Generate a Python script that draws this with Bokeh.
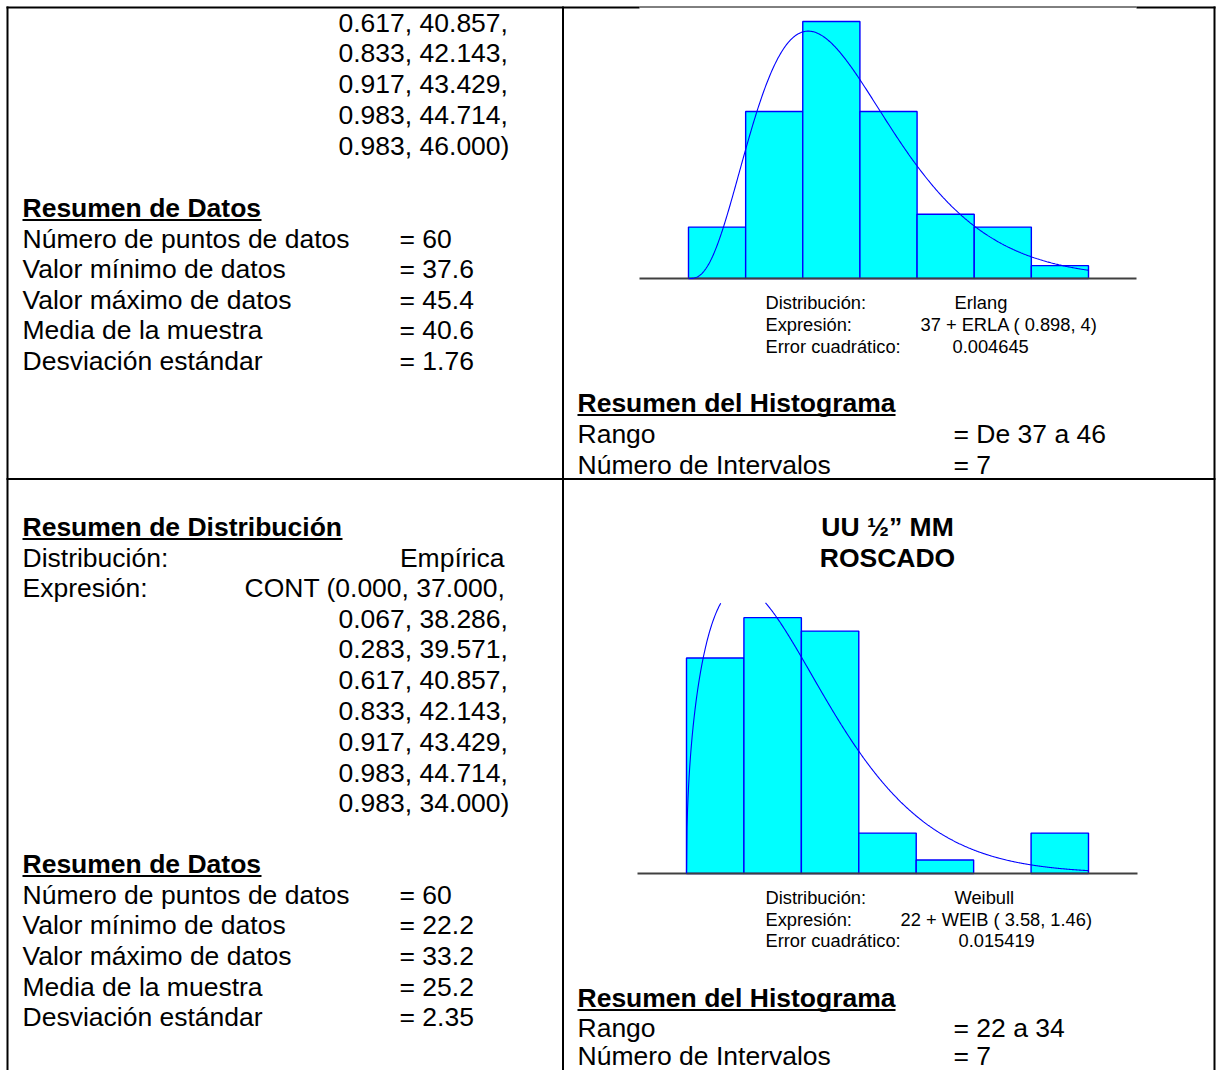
import math
import numpy as np
from bokeh.plotting import figure
from bokeh.models import Range1d
from bokeh.core.properties import value
from bokeh.embed import file_html
from bokeh.resources import INLINE

# ---------------- data ----------------
stat_labels = ["Número de puntos de datos", "Valor mínimo de datos",
               "Valor máximo de datos", "Media de la muestra", "Desviación estándar"]
stats_top = ["= 60", "= 37.6", "= 45.4", "= 40.6", "= 1.76"]
stats_bot = ["= 60", "= 22.2", "= 33.2", "= 25.2", "= 2.35"]

cont_top_tail = ["0.617, 40.857,", "0.833, 42.143,", "0.917, 43.429,",
                 "0.983, 44.714,", "0.983, 46.000)"]
dist_name_bot = "Empírica"
cont_bot_head = "CONT (0.000, 37.000,"
cont_bot_tail = ["0.067, 38.286,", "0.283, 39.571,", "0.617, 40.857,",
                 "0.833, 42.143,", "0.917, 43.429,", "0.983, 44.714,",
                 "0.983, 34.000)"]

fit_labels = ["Distribución:", "Expresión:", "Error cuadrático:"]
fit_top = ["Erlang", "37 + ERLA ( 0.898, 4)", "0.004645"]
fit_bot = ["Weibull", "22 + WEIB ( 3.58, 1.46)", "0.015419"]

hist_labels = ["Rango", "Número de Intervalos"]
hist_top = ["= De 37 a 46", "= 7"]
hist_bot = ["= 22 a 34", "= 7"]

title_lines = ["UU ½” MM", "ROSCADO"]

edges_top = [37.000, 38.286, 39.571, 40.857, 42.143, 43.429, 44.714, 46.000]
counts_top = [4, 13, 20, 13, 5, 4, 1]
edges_bot = [22.000, 23.714, 25.429, 27.143, 28.857, 30.571, 32.286, 34.000]
counts_bot = [16, 19, 18, 3, 1, 0, 3]
n_points = 60

erlang_loc, erlang_scale, erlang_k = 37.0, 0.898, 4
weib_loc, weib_scale, weib_shape = 22.0, 3.58, 1.46

# ---------------- figure ----------------
FONT = value("Liberation Sans")
BIG = "26.5px"
SMALL = "18.3px"
W, H = 1216, 1070

p = figure(width=W, height=H, output_backend="svg", toolbar_location=None,
           x_range=Range1d(0, W), y_range=Range1d(H, 0), min_border=0)
p.axis.visible = False
p.grid.visible = False
p.outline_line_color = None
p.background_fill_color = "white"
p.border_fill_color = "white"


def anchored(v0, p0, v1, p1, lo_px, hi_px):
    s = (p1 - p0) / (v1 - v0)
    return Range1d(start=v0 + (lo_px - p0) / s, end=v0 + (hi_px - p0) / s)


p.extra_x_ranges = {
    "xt": anchored(edges_top[0], 688, edges_top[-1], 1088, 0, W),
    "xb": anchored(edges_bot[0], 686, edges_bot[-1], 1088, 0, W),
}
p.extra_y_ranges = {
    "yt": anchored(0, 278, 20, 21, H, 0),
    "yb": anchored(0, 873, 60, 65, H, 0),
}


def txt(x, y, s, size=BIG, bold=False, align="left"):
    p.text(x=[x], y=[y], text=[s], text_font=FONT, text_font_size=size,
           text_font_style="bold" if bold else "normal", text_align=align,
           text_baseline="middle", text_color="black")


def heading(x, y, s, width):
    txt(x, y, s, bold=True)
    p.segment(x0=[x], y0=[y + 12.5], x1=[x + width], y1=[y + 12.5],
              line_color="black", line_width=2)


# ---------------- table lines ----------------
p.segment(x0=[7, 562.5, 1214], y0=[6, 6, 6], x1=[7, 562.5, 1214], y1=[H, H, H],
          line_color="black", line_width=2)
p.segment(x0=[6, 1136, 6], y0=[7, 7, 478.5], x1=[639, 1215, 1215], y1=[7, 7, 478.5],
          line_color="black", line_width=2)
p.segment(x0=[639], y0=[6.5], x1=[1136], y1=[6.5], line_color="black", line_width=1)

# ---------------- top-left cell ----------------
for i, s in enumerate(cont_top_tail):
    txt(338, 22 + i * 30.8, s)
heading(22, 207, "Resumen de Datos", 239)
for i, (lab, val) in enumerate(zip(stat_labels, stats_top)):
    txt(22, 238 + i * 30.6, lab)
    txt(399, 238 + i * 30.6, val)

# ---------------- bottom-left cell ----------------
heading(22, 526, "Resumen de Distribución", 320)
txt(22, 557, "Distribución:")
txt(504, 557, dist_name_bot, align="right")
txt(22, 587, "Expresión:")
txt(244, 587, cont_bot_head)
for i, s in enumerate(cont_bot_tail):
    txt(338, 618 + i * 30.8, s)
heading(22, 863, "Resumen de Datos", 239)
for i, (lab, val) in enumerate(zip(stat_labels, stats_bot)):
    txt(22, 894 + i * 30.7, lab)
    txt(399, 894 + i * 30.7, val)


# ---------------- histograms ----------------
def histogram(edges, counts, xr, yr, base_px, base_x0, base_x1):
    keep = [i for i, c in enumerate(counts) if c > 0]
    p.quad(left=[edges[i] for i in keep], right=[edges[i + 1] for i in keep],
           bottom=[0] * len(keep), top=[counts[i] for i in keep],
           fill_color="#00FFFF", line_color="#0000FF", line_width=1.4,
           x_range_name=xr, y_range_name=yr)
    p.segment(x0=[base_x0], y0=[base_px], x1=[base_x1], y1=[base_px],
              line_color="#404040", line_width=2)


histogram(edges_top, counts_top, "xt", "yt", 278, 639, 1136)
histogram(edges_bot, counts_bot, "xb", "yb", 873, 637, 1137)

# fitted density curves (expected counts per interval, from the stated parameters)
bw_top = edges_top[1] - edges_top[0]
xt = np.linspace(edges_top[0], edges_top[-1], 500)
tt = xt - erlang_loc
yt = n_points * bw_top * tt ** (erlang_k - 1) * np.exp(-tt / erlang_scale) / (
    erlang_scale ** erlang_k * math.factorial(erlang_k - 1))
p.line(xt, yt, line_color="#0000FF", line_width=1.1, x_range_name="xt", y_range_name="yt")

bw_bot = edges_bot[1] - edges_bot[0]
xb = np.linspace(edges_bot[0], edges_bot[-1], 800)
tb = (xb - weib_loc) / weib_scale
yb = n_points * bw_bot * (weib_shape / weib_scale) * tb ** (weib_shape - 1) * np.exp(-tb ** weib_shape)
clip_top = (873 - 602) / (808 / 60)
yb = np.where(yb > clip_top, np.nan, yb)
p.line(xb, yb, line_color="#0000FF", line_width=1.1, x_range_name="xb", y_range_name="yb")

# ---------------- top-right cell texts ----------------
for i, lab in enumerate(fit_labels):
    txt(765, 302 + i * 22, lab, size=SMALL)
txt(954, 302, fit_top[0], size=SMALL)
txt(920, 324, fit_top[1], size=SMALL)
txt(952, 346, fit_top[2], size=SMALL)
heading(577, 402, "Resumen del Histograma", 318)
for i, (lab, val) in enumerate(zip(hist_labels, hist_top)):
    txt(577, 433 + i * 31, lab)
    txt(953, 433 + i * 31, val)

# ---------------- bottom-right cell texts ----------------
txt(887, 526, title_lines[0], bold=True, align="center")
txt(887, 557, title_lines[1], bold=True, align="center")
for i, lab in enumerate(fit_labels):
    txt(765, 897 + i * 21.5, lab, size=SMALL)
txt(954, 897, fit_bot[0], size=SMALL)
txt(900, 918.5, fit_bot[1], size=SMALL)
txt(958, 940, fit_bot[2], size=SMALL)
heading(577, 997, "Resumen del Histograma", 318)
for i, (lab, val) in enumerate(zip(hist_labels, hist_bot)):
    txt(577, 1027 + i * 28.5, lab)
    txt(953, 1027 + i * 28.5, val)

open("out.html", "w").write(file_html(p, INLINE))
